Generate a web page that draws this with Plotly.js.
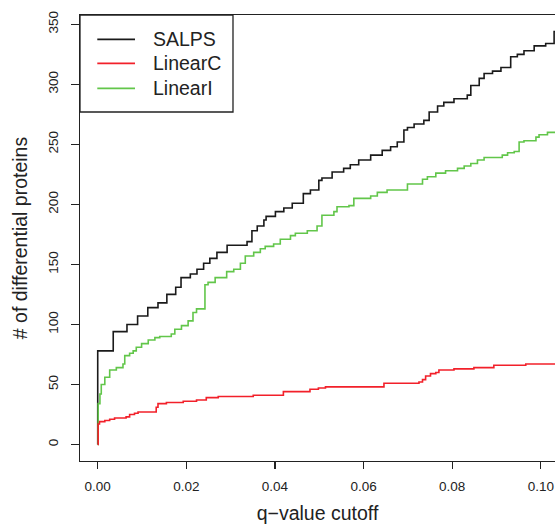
<!DOCTYPE html>
<html>
<head>
<meta charset="utf-8">
<script src="https://cdn.plot.ly/plotly-3.0.1.min.js"></script>
<style>html,body{margin:0;padding:0;overflow:hidden;background:#fff;}</style>
</head>
<body>
<div id="chart" style="width:555px;height:524px;"></div>
<script>
// SALPS
const salpsQ = [0, 0, 0.0035, 0.0066, 0.0090, 0.0113, 0.0136, 0.0156, 0.0176, 0.0188, 0.0209, 0.0224, 0.0239, 0.0253, 0.0269, 0.0292, 0.0337, 0.0348, 0.0360, 0.0375, 0.0380, 0.0401, 0.0420, 0.0439, 0.0464, 0.0480, 0.0499, 0.0506, 0.0529, 0.0555, 0.0570, 0.0589, 0.0616, 0.0642, 0.0661, 0.0676, 0.0691, 0.0699, 0.0714, 0.0736, 0.0748, 0.0767, 0.0781, 0.0804, 0.0834, 0.0842, 0.0861, 0.0872, 0.0891, 0.0910, 0.0932, 0.0947, 0.0962, 0.0985, 0.1011, 0.1030, 0.1040];
const salpsN = [0, 78, 94, 100, 107, 114, 118, 125, 131, 139, 142, 146, 151, 155, 160, 166, 169, 178, 182, 187, 190, 194, 197, 201, 209, 212, 220, 222, 227, 230, 233, 237, 241, 245, 248, 252, 262, 264, 267, 270, 277, 282, 285, 288, 291, 299, 305, 309, 311, 314, 323, 325, 328, 332, 334, 344, 344];
// LinearC
const linearCQ = [0, 0.0001, 0.0004, 0.0016, 0.0027, 0.0038, 0.0064, 0.0072, 0.0083, 0.0091, 0.0132, 0.0136, 0.0155, 0.0193, 0.0223, 0.0245, 0.0272, 0.0351, 0.0419, 0.0479, 0.0498, 0.0514, 0.0646, 0.0725, 0.0733, 0.0740, 0.0751, 0.0763, 0.0770, 0.0804, 0.0849, 0.0894, 0.0966, 0.1040];
const linearCN = [0, 17, 19, 20, 21, 22, 23, 25, 26, 27, 31, 34, 35, 36, 37, 39, 40, 41, 44, 46, 47, 48, 51, 52, 54, 57, 59, 60, 62, 63, 64, 66, 67, 67];
// LinearI
const linearIQ = [0, 0.0001, 0.0005, 0.0008, 0.0016, 0.0027, 0.0042, 0.0057, 0.0061, 0.0072, 0.0080, 0.0087, 0.0099, 0.0114, 0.0129, 0.0140, 0.0166, 0.0174, 0.0189, 0.0204, 0.0215, 0.0223, 0.0242, 0.0249, 0.0265, 0.0291, 0.0307, 0.0322, 0.0333, 0.0352, 0.0367, 0.0378, 0.0397, 0.0412, 0.0435, 0.0446, 0.0473, 0.0495, 0.0506, 0.0533, 0.0540, 0.0567, 0.0578, 0.0616, 0.0631, 0.0653, 0.0699, 0.0733, 0.0744, 0.0763, 0.0785, 0.0812, 0.0827, 0.0842, 0.0857, 0.0872, 0.0913, 0.0925, 0.0940, 0.0951, 0.0962, 0.0989, 0.0996, 0.1015, 0.1040];
const linearIN = [0, 34, 42, 50, 56, 62, 64, 67, 74, 76, 78, 81, 84, 87, 89, 90, 92, 96, 99, 103, 110, 113, 133, 135, 139, 144, 146, 151, 157, 160, 163, 165, 167, 171, 174, 176, 178, 182, 191, 194, 198, 199, 205, 207, 210, 212, 217, 221, 223, 226, 228, 230, 232, 234, 237, 239, 241, 243, 244, 252, 253, 256, 258, 260, 260];

const seriesNames = ["SALPS", "LinearC", "LinearI"];
const seriesColors = ["#1a1a1a", "#f2202a", "#62c64a"];
const xTickVals = [0, 0.02, 0.04, 0.06, 0.08, 0.10];
const yTickVals = [0, 50, 100, 150, 200, 250, 300, 350];

const xs = [salpsQ, linearCQ, linearIQ];
const ys = [salpsN, linearCN, linearIN];
const traces = [];
// draw order: SALPS, LinearI, LinearC so red/green on top at origin
[0, 2, 1].forEach(i => {
  traces.push({
    x: xs[i], y: ys[i], type: 'scatter', mode: 'lines',
    name: seriesNames[i], line: {color: seriesColors[i], width: 1.6, shape: 'hv'},
    showlegend: false, hoverinfo: 'skip'
  });
});

const font = "Liberation Sans, Arial, Helvetica, sans-serif";
const shapes = [{
  type: 'rect', xref: 'paper', yref: 'paper', x0: 0, x1: 0.3221, y0: 0.7825, y1: 1,
  line: {color: '#222', width: 1.3}, fillcolor: 'rgba(0,0,0,0)'
}];
const annotations = [];
const legY = [0.9455, 0.8917, 0.8356];
seriesNames.forEach((n, i) => {
  shapes.push({type: 'line', xref: 'paper', yref: 'paper', x0: 0.0364, x1: 0.1158, y0: legY[i], y1: legY[i],
    line: {color: seriesColors[i], width: 1.8}});
  annotations.push({xref: 'paper', yref: 'paper', x: 0.1500, y: legY[i], xanchor: 'left', yanchor: 'middle',
    text: n, showarrow: false, font: {family: font, size: 19.5, color: '#222'}});
});

const layout = {
  width: 555, height: 524,
  margin: {l: 80, r: 0, t: 15, b: 63},
  paper_bgcolor: '#fff', plot_bgcolor: '#fff',
  font: {family: font, color: '#222'},
  xaxis: {
    range: [-0.0040, 0.1032], tickvals: xTickVals, tickformat: '.2f',
    showgrid: false, zeroline: false, showline: true, mirror: true, linecolor: '#222', linewidth: 1.3,
    ticks: 'outside', ticklen: 7, tickwidth: 1.2, tickcolor: '#222', ticklabelstandoff: 5,
    tickfont: {size: 13.5, family: font, color: '#222'},
    title: {text: 'q\u2212value cutoff', font: {size: 19.5, family: font, color: '#222'}, standoff: 17}
  },
  yaxis: {
    range: [-13.76, 357.76], tickvals: yTickVals, tickangle: -90,
    showgrid: false, zeroline: false, showline: true, linecolor: '#222', linewidth: 1.3,
    ticks: 'outside', ticklen: 8, tickwidth: 1.2, tickcolor: '#222', ticklabelstandoff: 7,
    tickfont: {size: 13.5, family: font, color: '#222'},
    title: {text: '# of differential proteins', font: {size: 19.5, family: font, color: '#222'}, standoff: 13}
  },
  shapes: shapes, annotations: annotations
};
Plotly.newPlot('chart', traces, layout, {staticPlot: true, displayModeBar: false});
</script>
</body>
</html>
